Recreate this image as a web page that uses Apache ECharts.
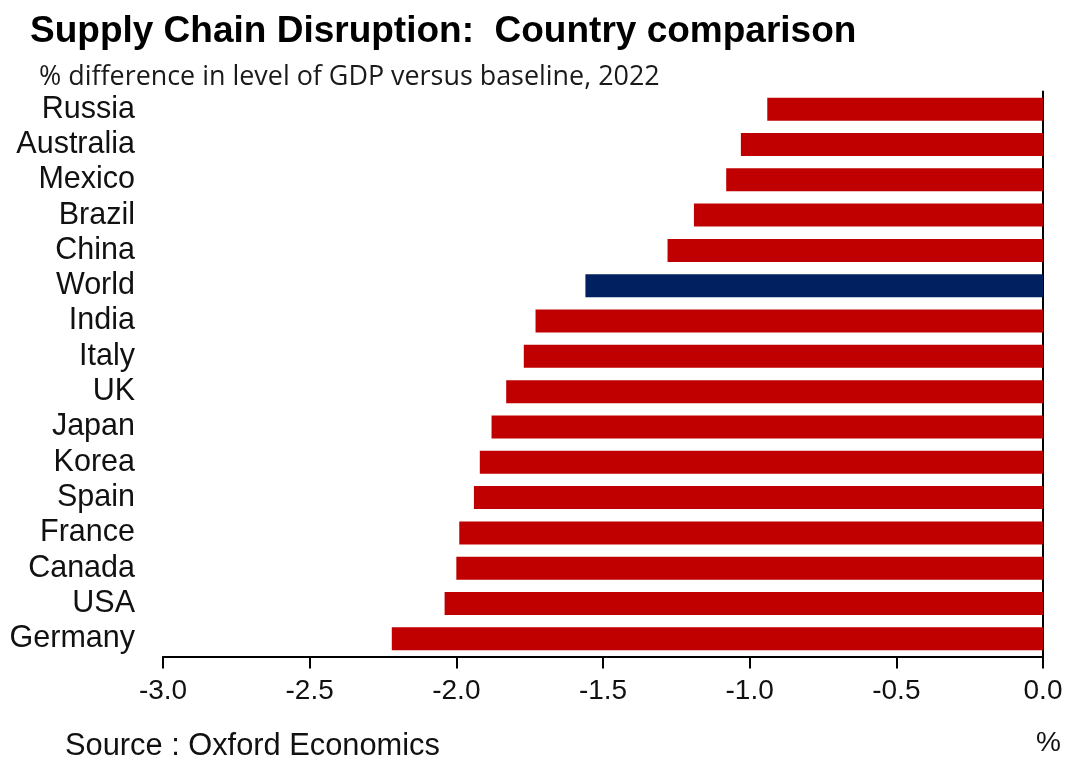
<!DOCTYPE html>
<html>
<head>
<meta charset="utf-8">
<script src="https://cdn.jsdelivr.net/npm/echarts@6/dist/echarts.min.js"></script>
<style>
html,body{margin:0;padding:0;background:#fff;}
#chart{width:1080px;height:769px;}
</style>
</head>
<body>
<div id="chart"></div>
<script>
const categories = ["Russia","Australia","Mexico","Brazil","China","World","India","Italy","UK","Japan","Korea","Spain","France","Canada","USA","Germany"];
const values = [-0.94,-1.03,-1.08,-1.19,-1.28,-1.56,-1.73,-1.77,-1.83,-1.88,-1.92,-1.94,-1.99,-2.00,-2.04,-2.22];
const highlightName = "World";
const xTicks = [-3.0,-2.5,-2.0,-1.5,-1.0,-0.5,0.0];
const titleText = "Supply Chain Disruption:  Country comparison";
const subtitleText = "% difference in level of GDP versus baseline, 2022";
const sourceText = "Source : Oxford Economics";
const unitText = "%";

const chart = echarts.init(document.getElementById('chart'));
const option = {
  backgroundColor: '#ffffff',
  animation: false,
  title: [
    {text: titleText, left: 25, top: 8,
     textStyle: {fontFamily: 'Liberation Sans, Arial', fontWeight: 'bold', fontSize: 37, color: '#000'}},
    {text: subtitleText, left: 34, top: 59,
     textStyle: {fontFamily: 'Open Sans', fontWeight: 'normal', fontSize: 26.9, color: '#1a1a1a'}}
  ],
  graphic: [
    {type: 'text', left: 65, top: 731, style: {text: sourceText, font: '30.8px "Liberation Sans", Arial', fill: '#111'}},
    {type: 'text', left: 1036, top: 729, style: {text: unitText, font: '28px "Liberation Sans", Arial', fill: '#111'}}
  ],
  grid: {left: 163, right: 37, top: 91.5, bottom: 112.5, containLabel: false},
  xAxis: {
    type: 'value', min: xTicks[0], max: xTicks[xTicks.length-1], interval: 0.5,
    axisLine: {show: true, lineStyle: {color: '#000', width: 2}},
    axisTick: {show: true, length: 12, lineStyle: {color: '#000', width: 2}},
    splitLine: {show: false},
    axisLabel: {margin: 21, fontFamily: 'Liberation Sans, Arial', fontSize: 28, color: '#111',
      formatter: v => v.toFixed(1)}
  },
  yAxis: [
    {type: 'category', data: categories, inverse: true, position: 'left',
     axisLine: {show: false}, axisTick: {show: false},
     axisLabel: {interval: 0, margin: 28, padding: [3, 0, 0, 0], fontFamily: 'Liberation Sans, Arial', fontSize: 30.5, color: '#111'}},
    {type: 'category', data: categories, inverse: true, position: 'right',
     axisLine: {show: true, onZero: false, lineStyle: {color: '#000', width: 2}},
     axisTick: {show: false}, axisLabel: {show: false}}
  ],
  series: [{
    type: 'bar', yAxisIndex: 0, barWidth: 23,
    data: values.map((v, i) => ({value: v, itemStyle: {color: categories[i] === highlightName ? '#002060' : '#C00000'}}))
  }]
};
chart.setOption(option);
</script>
</body>
</html>
